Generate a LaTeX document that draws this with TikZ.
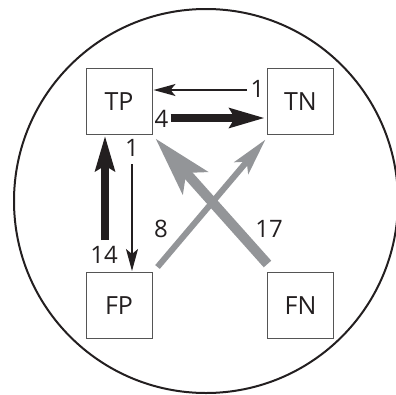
\documentclass[tikz,border=0pt]{standalone}
\usepackage{fontspec}
\setmainfont{Open Sans}
\usetikzlibrary{arrows.meta,calc}
\definecolor{ink}{HTML}{231F20}
\definecolor{flowgray}{HTML}{939598}
\definecolor{boxline}{HTML}{555555}
\tikzset{
  cell/.style={draw=boxline, line width=1pt, minimum size=66pt, inner sep=0pt,
               font=\fontsize{25}{25}\selectfont, text=ink},
  num/.style={inner sep=0pt, font=\fontsize{24}{24}\selectfont, text=ink},
  thinflow/.style={draw=ink, line width=1.4pt,
                   -{Stealth[length=22pt,width=12pt,inset=5pt]}},
  thickflow/.style={draw=ink, line width=8pt,
                    -{Stealth[length=35pt,width=19pt,inset=5pt]}},
  grayflow/.style={draw=flowgray, line width=6pt,
                   -{Stealth[length=37pt,width=18pt,inset=8pt]}},
  grayheavy/.style={draw=flowgray, line width=10pt,
                    -{Stealth[length=59pt,width=33pt,inset=13pt]}},
}
\begin{document}
\begin{tikzpicture}[x=1pt,y=-1pt]
  \useasboundingbox (0,0) rectangle (396,394);
  % enclosing circle
  \draw[ink, line width=2pt] (206,201) circle[radius=192];

  % the four outcome boxes
  \node[cell] (TP) at (119,101.5) {TP};
  \node[cell] (TN) at (300.5,101.5) {TN};
  \node[cell] (FP) at (119,305.5) {FP};
  \node[cell] (FN) at (300.5,305.5) {FN};

  % end points of the flows
  \coordinate (tnS) at ($(TN.west)+(-20,-11.5)$);
  \coordinate (tpT) at ($(TP.east)+(1,-11.5)$);
  \coordinate (tpS) at ($(TP.east)+(18,16.5)$);
  \coordinate (tnT) at ($(TN.west)+(-2,16.5)$);
  \coordinate (tpD) at ($(TP.south)+(13,29)$);
  \coordinate (fpT) at ($(FP.north)+(13,-1)$);
  \coordinate (fpS) at ($(FP.north)+(-14,-32)$);
  \coordinate (tpU) at ($(TP.south)+(-14,0.5)$);
  \coordinate (fpX) at ($(FP.north east)+(5,-5)$);
  \coordinate (tnX) at ($(TN.south west)+(-1.5,4.5)$);
  \coordinate (fnX) at ($(FN.north west)+(0.5,-8)$);
  \coordinate (tpX) at ($(TP.south east)+(3,3.5)$);

  % flows between the boxes
  \draw[grayflow] (fpX) -- (tnX);
  \draw[grayheavy] (fnX) -- (tpX);
  \draw[thinflow] (tnS) -- (tpT);
  \draw[thickflow] (tpS) -- (tnT);
  \draw[thinflow] (tpD) -- (fpT);
  \draw[thickflow] (fpS) -- (tpU);

  % counts
  \node[num] (n1) at (257.5,89) {1};
  \node[num] (n4) at (161.5,118.5) {4};
  \node[num] (n1b) at (132,148) {1};
  \node[num] (n14) at (104,254.5) {14};
  \node[num] (n8) at (161,229) {8};
  \node[num] (n17) at (269,229) {17};
\end{tikzpicture}
\end{document}
